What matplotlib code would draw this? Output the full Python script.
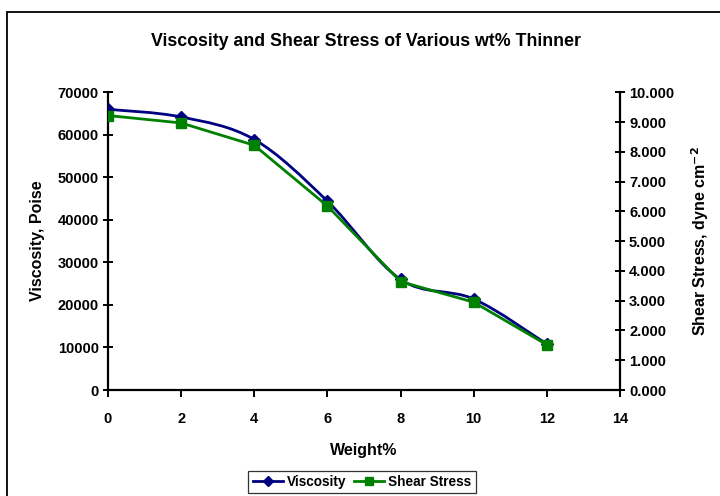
import matplotlib
matplotlib.use("Agg")
import matplotlib.pyplot as plt
from matplotlib.path import Path
from matplotlib.patches import PathPatch, Rectangle
from matplotlib.lines import Line2D
from matplotlib.ticker import FormatStrFormatter, MultipleLocator

plt.rcParams["font.family"] = ["Liberation Sans", "DejaVu Sans"]
plt.rcParams["font.weight"] = "bold"

weight = [0, 2, 4, 6, 8, 10, 12]
viscosity = [66000, 64200, 58900, 44400, 26000, 21400, 10800]
shear_stress = [9.22, 8.97, 8.22, 6.18, 3.64, 2.95, 1.52]

BLUE = "#000080"
GREEN = "#008000"


def smooth_path(xs, ys):
    # Excel-style smoothed line: cubic Bezier through each point
    verts = [(xs[0], ys[0])]
    codes = [Path.MOVETO]
    n = len(xs)
    for i in range(n - 1):
        x0, y0 = (xs[i - 1], ys[i - 1]) if i > 0 else (xs[i], ys[i])
        x1, y1 = xs[i], ys[i]
        x2, y2 = xs[i + 1], ys[i + 1]
        x3, y3 = (xs[i + 2], ys[i + 2]) if i + 2 < n else (x2, y2)
        verts += [(x1 + (x2 - x0) / 6, y1 + (y2 - y0) / 6),
                  (x2 - (x3 - x1) / 6, y2 - (y3 - y1) / 6),
                  (x2, y2)]
        codes += [Path.CURVE4] * 3
    return Path(verts, codes)


fig = plt.figure(figsize=(7.2, 4.96), dpi=100)
fig.patches.append(Rectangle((7 / 720, -0.1), 1.2, 1.1 - 12 / 496,
                             transform=fig.transFigure, fill=False,
                             edgecolor="black", linewidth=1.3))

ax = fig.add_axes([108 / 720, 1 - 390 / 496, 512 / 720, (390 - 92.3) / 496])
ax2 = ax.twinx()

ax.add_patch(PathPatch(smooth_path(weight, viscosity), fill=False,
                       edgecolor=BLUE, linewidth=2.0, zorder=3))
ax.plot(weight, viscosity, linestyle="none", marker="D", markersize=6,
        color=BLUE, zorder=4)
ax2.plot(weight, shear_stress, color=GREEN, linewidth=2.0, marker="s",
         markersize=7, zorder=4)

ax.set_xlim(0, 14)
ax.set_ylim(0, 70000)
ax2.set_ylim(0, 10)
ax.xaxis.set_major_locator(MultipleLocator(2))
ax.yaxis.set_major_locator(MultipleLocator(10000))
ax2.yaxis.set_major_locator(MultipleLocator(1))
ax2.yaxis.set_major_formatter(FormatStrFormatter("%.3f"))

for a in (ax, ax2):
    a.spines["top"].set_visible(False)
    for s in a.spines.values():
        s.set_linewidth(1.6)
ax.spines["right"].set_visible(False)
ax2.spines["left"].set_visible(False)
ax2.spines["bottom"].set_visible(False)

ax.tick_params(axis="x", direction="out", length=5, width=1.4,
               labelsize=10.5, pad=11)
ax.tick_params(axis="y", direction="inout", length=7, width=1.4,
               labelsize=10.5, pad=3)
ax2.tick_params(axis="y", direction="inout", length=7, width=1.4,
                labelsize=10.5, pad=3)
for lab in ax.get_xticklabels() + ax.get_yticklabels() + ax2.get_yticklabels():
    lab.set_fontweight("bold")

ax.set_xlabel("Weight%", fontsize=11.5, fontweight="bold", labelpad=12)
ax.set_ylabel("Viscosity, Poise", fontsize=11.5, fontweight="bold", labelpad=9)
ax2.set_ylabel("Shear Stress, dyne cm$^{\\mathbf{-2}}$", fontsize=11.5,
               fontweight="bold", labelpad=11)

fig.text(366 / 720, 1 - 41 / 496, "Viscosity and Shear Stress of Various wt% Thinner",
         ha="center", va="center", fontsize=12.8, fontweight="bold")

handles = [Line2D([], [], color=BLUE, linewidth=2, marker="D", markersize=5),
           Line2D([], [], color=GREEN, linewidth=2, marker="s", markersize=6)]
leg = fig.legend(handles, ["Viscosity", "Shear Stress"], ncol=2,
                 loc="center", bbox_to_anchor=(362 / 720, 1 - 482 / 496),
                 fontsize=9.8, frameon=True, fancybox=False, edgecolor="black",
                 handlelength=2.2, handletextpad=0.3, columnspacing=0.6,
                 borderpad=0.3)
leg.get_frame().set_linewidth(0.9)
for t in leg.get_texts():
    t.set_fontweight("bold")

fig.savefig("out.png", dpi=100, facecolor="white")
